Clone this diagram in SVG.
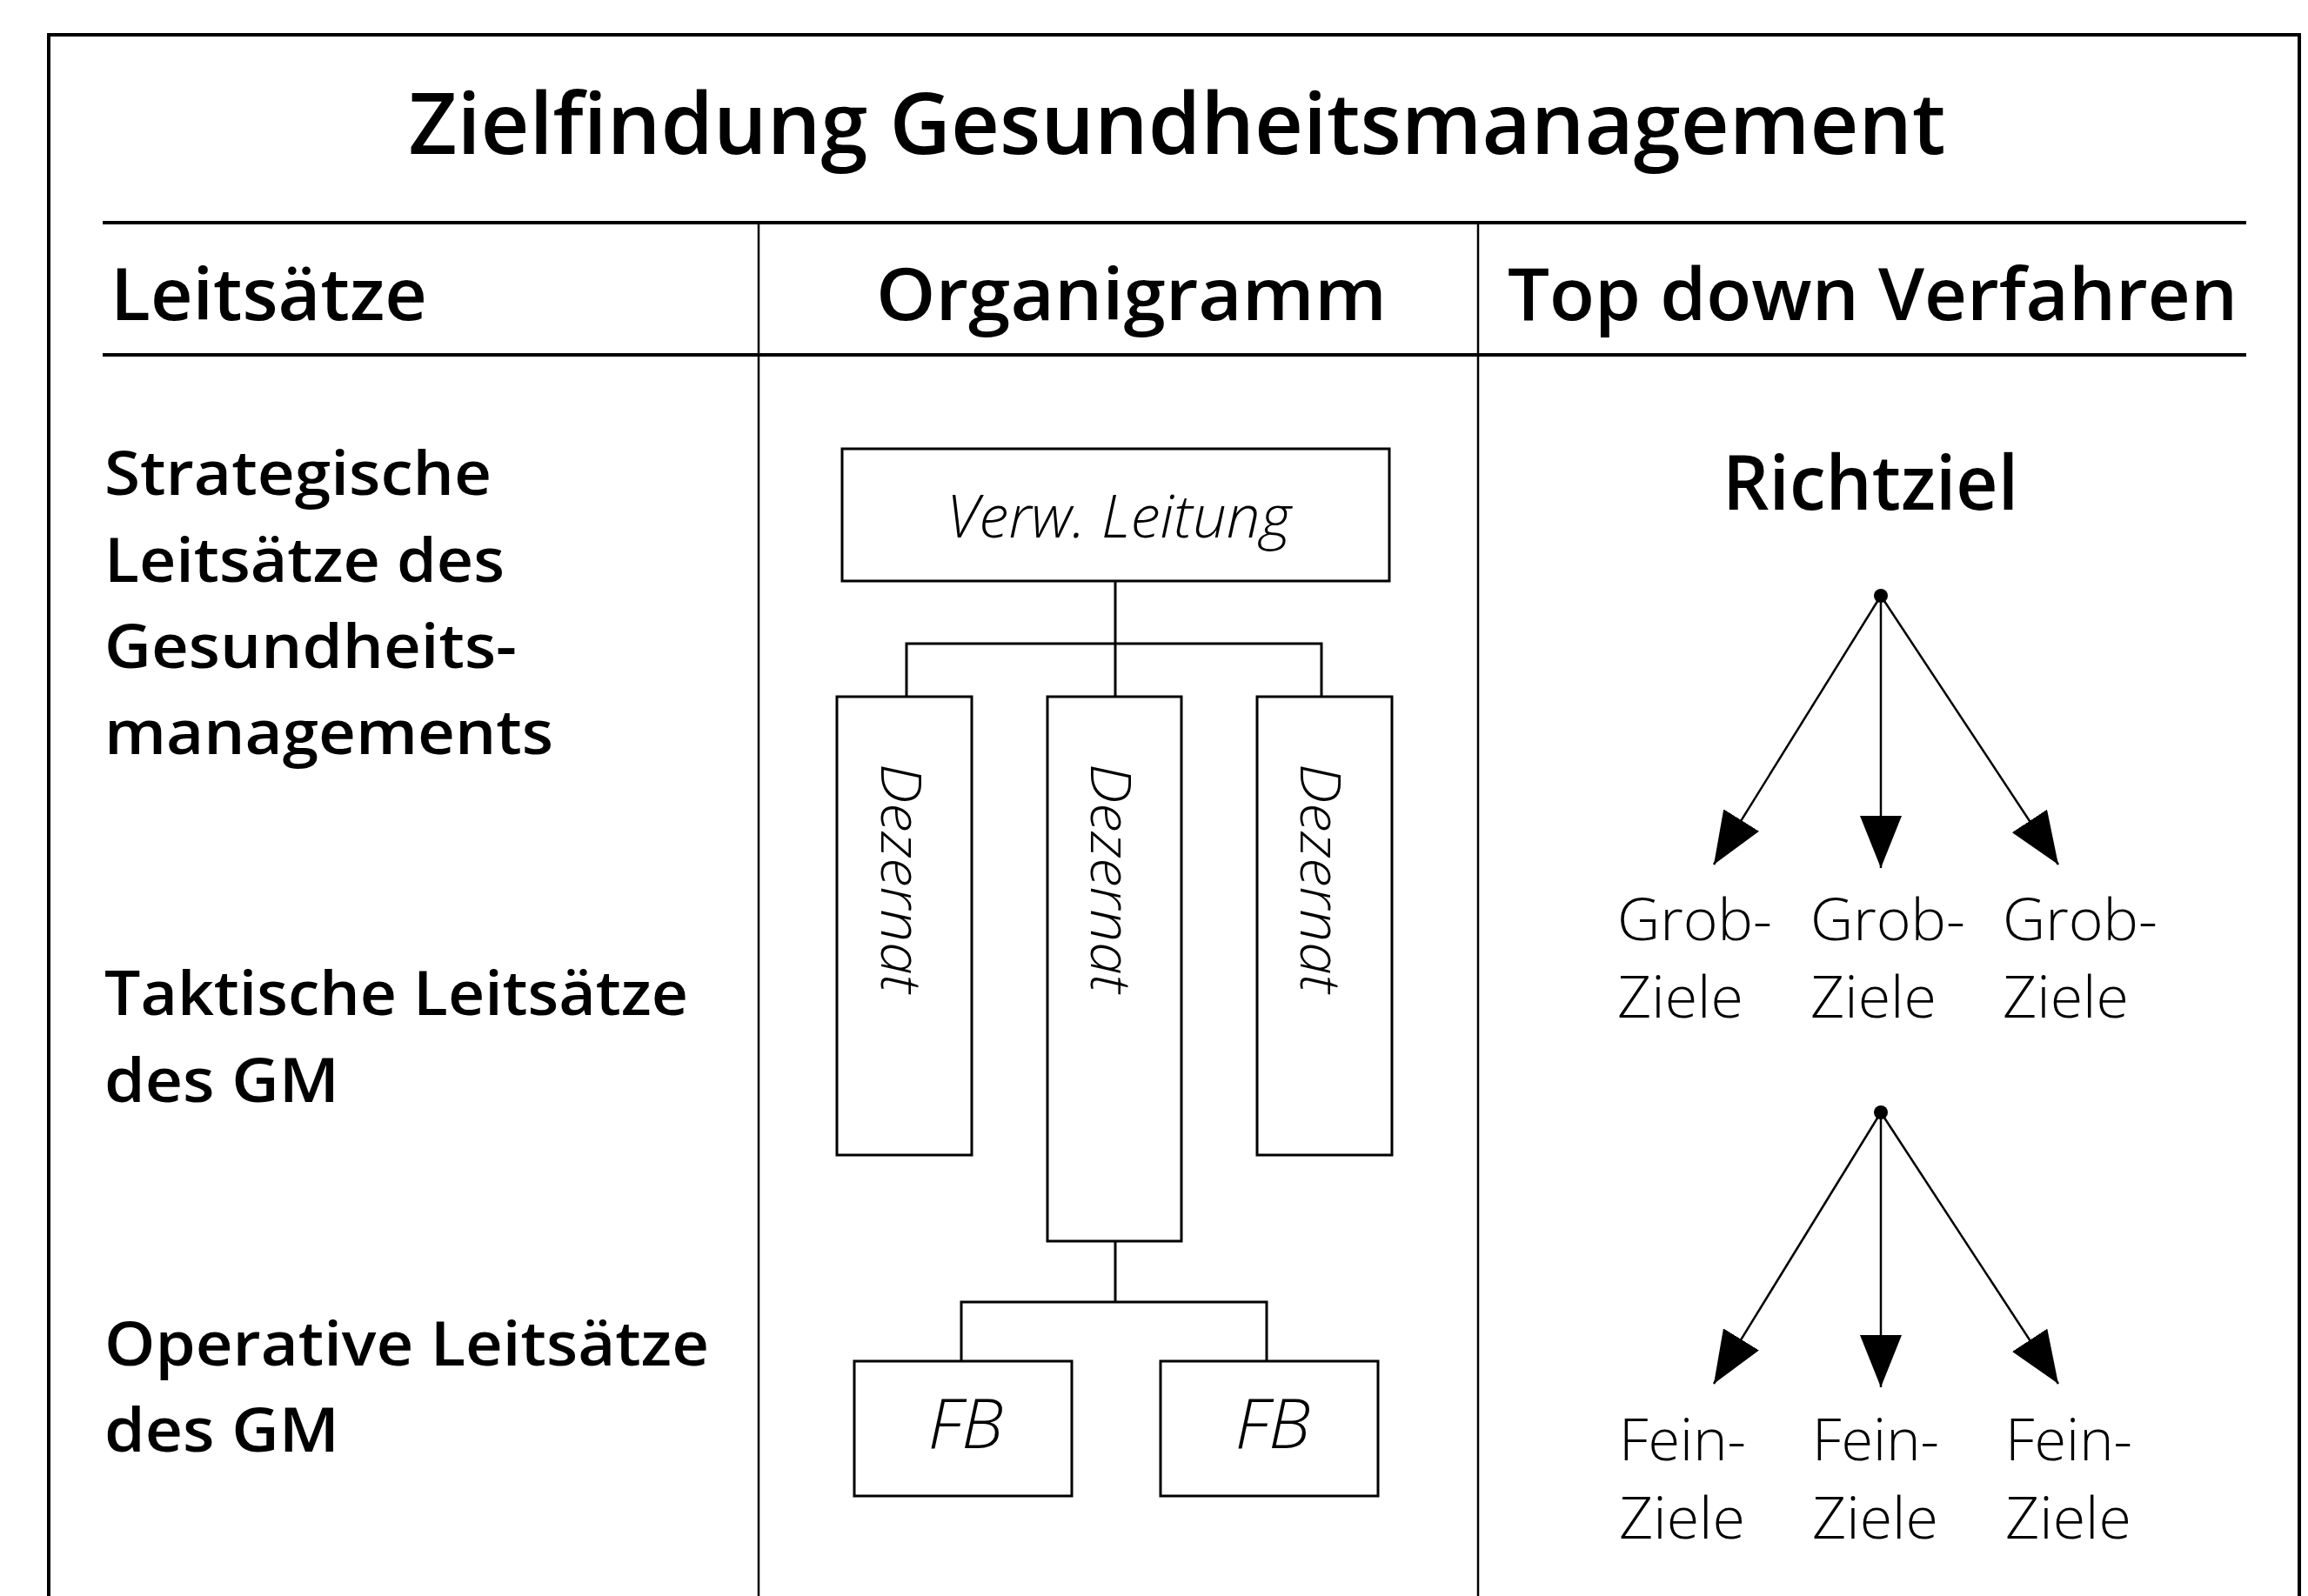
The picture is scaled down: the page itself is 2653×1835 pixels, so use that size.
<svg xmlns="http://www.w3.org/2000/svg" width="2653" height="1835" viewBox="0 0 2653 1835">
<defs>
<style>
.t{font-family:"Open Sans","Noto Sans","Liberation Sans",sans-serif;fill:#000}
.title{font-size:97px;font-weight:600}
.hd{font-size:84px;font-weight:600}
.lb{font-size:70px;font-weight:600}
.it{font-style:italic;font-weight:300}
.lt{font-size:66px;font-weight:300}
.frame{fill:none;stroke:#000;stroke-width:4}
.div{fill:none;stroke:#000;stroke-width:2.5}
.box{fill:#fff;stroke:#000;stroke-width:3}
.con{fill:none;stroke:#000;stroke-width:3}
.arr{fill:none;stroke:#000;stroke-width:2.5;marker-end:url(#ah)}
</style>
<marker id="ah" viewBox="0 0 60 48" refX="60" refY="24" markerWidth="60" markerHeight="48" markerUnits="userSpaceOnUse" orient="auto">
<path d="M0,0 L60,24 L0,48 z" fill="#000"/>
</marker>
</defs>
<rect width="2653" height="1835" fill="#fff"/>
<g id="frame">
<path class="frame" d="M56,1835 V40 H2643 V1835"/>
<line class="frame" x1="118" y1="256" x2="2582" y2="256"/>
<line class="frame" x1="118" y1="408" x2="2582" y2="408"/>
<line class="div" x1="872" y1="256" x2="872" y2="1835"/>
<line class="div" x1="1699" y1="256" x2="1699" y2="1835"/>
</g>
<g id="title"><text class="t title" x="1353" y="177" text-anchor="middle" textLength="1767" lengthAdjust="spacingAndGlyphs">Zielfindung Gesundheitsmanagement</text></g>
<g id="headers">
<text class="t hd" x="127" y="368" textLength="364" lengthAdjust="spacingAndGlyphs">Leitsätze</text>
<text class="t hd" x="1007" y="368" textLength="587" lengthAdjust="spacingAndGlyphs">Organigramm</text>
<text class="t hd" x="1733" y="368" textLength="839" lengthAdjust="spacingAndGlyphs">Top down Verfahren</text>
</g>
<g id="leitsaetze">
<text class="t lb" x="120" y="569" textLength="445" lengthAdjust="spacingAndGlyphs">Strategische</text>
<text class="t lb" x="120" y="669" textLength="460" lengthAdjust="spacingAndGlyphs">Leitsätze des</text>
<text class="t lb" x="120" y="768" textLength="474" lengthAdjust="spacingAndGlyphs">Gesundheits-</text>
<text class="t lb" x="120" y="867" textLength="516" lengthAdjust="spacingAndGlyphs">managements</text>
<text class="t lb" x="120" y="1167" textLength="671" lengthAdjust="spacingAndGlyphs">Taktische Leitsätze</text>
<text class="t lb" x="120" y="1267" textLength="270" lengthAdjust="spacingAndGlyphs">des GM</text>
<text class="t lb" x="120" y="1570" textLength="695" lengthAdjust="spacingAndGlyphs">Operative Leitsätze</text>
<text class="t lb" x="120" y="1669" textLength="270" lengthAdjust="spacingAndGlyphs">des GM</text>
</g>
<g id="connectors">
<path class="con" d="M1282,668 V801"/>
<path class="con" d="M1042,801 V740 H1519 V801"/>
<path class="con" d="M1282,1427 V1497"/>
<path class="con" d="M1105,1565 V1497 H1456 V1565"/>
<line class="arr" x1="2162" y1="685" x2="1970" y2="994"/>
<line class="arr" x1="2162" y1="685" x2="2162" y2="998"/>
<line class="arr" x1="2162" y1="685" x2="2366" y2="994"/>
<line class="arr" x1="2162" y1="1279" x2="1970" y2="1591"/>
<line class="arr" x1="2162" y1="1279" x2="2162" y2="1595"/>
<line class="arr" x1="2162" y1="1279" x2="2366" y2="1591"/>
</g>
<g id="verw-leitung">
<rect class="box" x="968" y="516" width="629" height="152"/>
<text class="t it" x="1286" y="618" font-size="68" text-anchor="middle" textLength="396" lengthAdjust="spacingAndGlyphs">Verw. Leitung</text>
</g>
<g id="dezernat-1">
<rect class="box" x="962" y="801" width="155" height="527"/>
<text class="t it" font-size="64" transform="translate(1013,878) rotate(90)" textLength="264" lengthAdjust="spacingAndGlyphs">Dezernat</text>
</g>
<g id="dezernat-2">
<rect class="box" x="1204" y="801" width="154" height="626"/>
<text class="t it" font-size="64" transform="translate(1254,878) rotate(90)" textLength="264" lengthAdjust="spacingAndGlyphs">Dezernat</text>
</g>
<g id="dezernat-3">
<rect class="box" x="1445" y="801" width="155" height="527"/>
<text class="t it" font-size="64" transform="translate(1495,878) rotate(90)" textLength="264" lengthAdjust="spacingAndGlyphs">Dezernat</text>
</g>
<g id="fb-1">
<rect class="box" x="982" y="1565" width="250" height="155"/>
<text class="t it" x="1110" y="1665" font-size="80" text-anchor="middle">FB</text>
</g>
<g id="fb-2">
<rect class="box" x="1334" y="1565" width="250" height="155"/>
<text class="t it" x="1463" y="1665" font-size="80" text-anchor="middle">FB</text>
</g>
<g id="richtziel">
<text class="t" x="2150" y="586" font-size="86" font-weight="600" text-anchor="middle" textLength="340" lengthAdjust="spacingAndGlyphs">Richtziel</text>
<circle cx="2162" cy="685" r="8" fill="#000"/>
</g>
<g id="grobziele">
<text class="t lt" x="1859" y="1081" textLength="178" lengthAdjust="spacingAndGlyphs">Grob-</text>
<text class="t lt" x="1859" y="1170" textLength="145" lengthAdjust="spacingAndGlyphs">Ziele</text>
<text class="t lt" x="2081" y="1081" textLength="178" lengthAdjust="spacingAndGlyphs">Grob-</text>
<text class="t lt" x="2081" y="1170" textLength="145" lengthAdjust="spacingAndGlyphs">Ziele</text>
<text class="t lt" x="2302" y="1081" textLength="178" lengthAdjust="spacingAndGlyphs">Grob-</text>
<text class="t lt" x="2302" y="1170" textLength="145" lengthAdjust="spacingAndGlyphs">Ziele</text>
<circle cx="2162" cy="1279" r="8" fill="#000"/>
</g>
<g id="feinziele">
<text class="t lt" x="1861" y="1679" textLength="146" lengthAdjust="spacingAndGlyphs">Fein-</text>
<text class="t lt" x="1861" y="1769" textLength="145" lengthAdjust="spacingAndGlyphs">Ziele</text>
<text class="t lt" x="2083" y="1679" textLength="146" lengthAdjust="spacingAndGlyphs">Fein-</text>
<text class="t lt" x="2083" y="1769" textLength="145" lengthAdjust="spacingAndGlyphs">Ziele</text>
<text class="t lt" x="2305" y="1679" textLength="146" lengthAdjust="spacingAndGlyphs">Fein-</text>
<text class="t lt" x="2305" y="1769" textLength="145" lengthAdjust="spacingAndGlyphs">Ziele</text>
</g>
</svg>
